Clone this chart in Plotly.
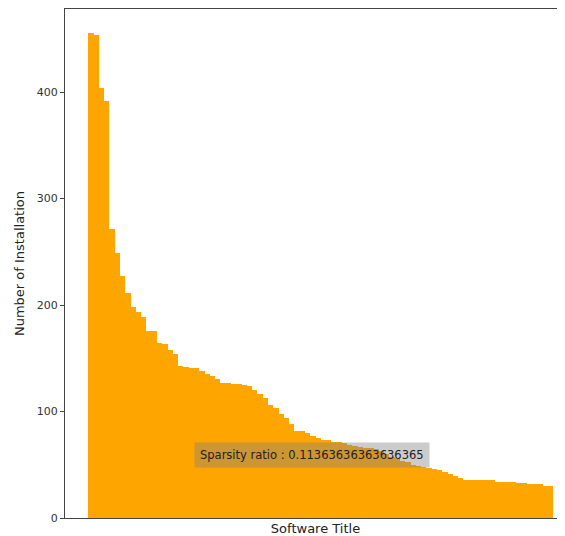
import plotly.graph_objects as go

# Number of installations per software title (sorted descending), 88 titles
installs = [
    455, 454, 404, 392, 271, 249, 227, 211, 198, 193,
    189, 176, 176, 164, 163, 158, 154, 143, 142, 141,
    141, 138, 135, 133, 131, 127, 127, 126, 126, 125,
    124, 120, 116, 113, 106, 103.5, 98, 93.5, 88, 82,
    81.5, 80, 77, 75, 73, 73, 71.5, 71, 70, 69,
    68, 67, 66, 65.5, 64.5, 63, 60, 57, 56, 54,
    52.5, 50, 49, 47.5, 47, 46, 45, 43, 41.5, 39.5,
    37.5, 36, 35.7, 35.4, 35.4, 35.3, 35.3, 34, 34, 33.8,
    33.8, 33, 32.6, 32, 31.8, 31.6, 30.5, 30,
]
titles = list(range(len(installs)))
sparsity_label = "Sparsity ratio : 0.11363636363636365"
y_ticks = [0, 100, 200, 300, 400]

fig = go.Figure()
fig.add_trace(go.Bar(
    x=titles, y=installs, width=1,
    marker=dict(color="#FFA500", line=dict(width=0)),
    showlegend=False,
))

fig.add_annotation(
    x=41.8, y=59, xref="x", yref="y",
    text=sparsity_label, showarrow=False,
    font=dict(family="DejaVu Sans", size=11.5, color="#222222"),
    bgcolor="rgba(128,128,128,0.4)", borderpad=5,
)

fig.update_layout(
    width=558, height=529,
    margin=dict(l=57, r=0, t=1, b=19),
    paper_bgcolor="white", plot_bgcolor="white",
    bargap=0,
    font=dict(family="DejaVu Sans", color="#222222"),
)
fig.update_xaxes(
    range=[-4.9, 89.9],
    showticklabels=False, ticks="",
    showgrid=False, zeroline=False,
    showline=True, linecolor="#444444", linewidth=1, mirror=True,
    title=dict(text="Software Title", font=dict(size=13), standoff=5),
    automargin=False,
)
fig.update_yaxes(
    range=[0, 478],
    tickvals=y_ticks, ticks="outside", ticklen=4, tickcolor="#444444",
    tickfont=dict(size=11, color="#333333"),
    showgrid=False, zeroline=False,
    showline=True, linecolor="#444444", linewidth=1,
    title=dict(text="Number of Installation", font=dict(size=13), standoff=9),
    automargin=False,
)

fig.write_html("out.html")
